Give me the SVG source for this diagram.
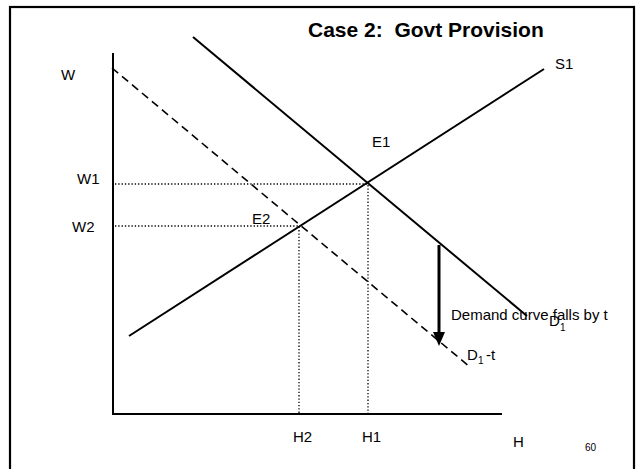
<svg xmlns="http://www.w3.org/2000/svg" width="639" height="469" viewBox="0 0 639 469">
<style>
text{font-family:"Liberation Sans",Arial,sans-serif;font-size:15px;fill:#000}
.t{font-size:21px;font-weight:bold;white-space:pre}
.sub{font-size:10px}
.ln{stroke:#000;stroke-width:2;fill:none}
.dot{stroke:#000;stroke-width:1.3;stroke-dasharray:1.3,2;fill:none}
.dash{stroke:#000;stroke-width:1.6;stroke-dasharray:8,5;fill:none}
</style>
<defs>
<marker id="ah" markerUnits="userSpaceOnUse" markerWidth="12" markerHeight="14" refX="6" refY="13" orient="auto-start-reverse" viewBox="0 0 12 14">
<path d="M0,0 L12,0 L6,13 Z" fill="#000"/>
</marker>
</defs>
<rect x="0" y="0" width="639" height="469" fill="#fff"/>
<rect x="10" y="7" width="624" height="470" fill="none" stroke="#000" stroke-width="2.2"/>
<text class="t" x="308" y="37">Case 2:  Govt Provision</text>
<g id="axes">
<path class="ln" d="M113,53 V414 H502"/>
<text x="61" y="80">W</text>
<text x="513" y="447">H</text>
</g>
<g id="connectors">
<path class="dot" d="M115,184 H368 V414"/>
<path class="dot" d="M115,226 H299 V414"/>
<line class="ln" x1="439" y1="245" x2="439" y2="333" stroke-width="3" style="stroke-width:3"/>
<path d="M433,332 L445,332 L439,346 Z" fill="#000"/>
</g>
<g id="S1">
<line class="ln" x1="129" y1="336" x2="544" y2="69"/>
<text x="555" y="69">S1</text>
</g>
<g id="D1">
<line class="ln" x1="193" y1="37" x2="527" y2="316"/>
<text x="549" y="326">D</text><text class="sub" x="560" y="331">1</text>
</g>
<g id="D1t">
<line class="dash" x1="112" y1="68" x2="470" y2="367"/>
<text x="467" y="360">D</text><text class="sub" x="478" y="364">1</text><text x="486" y="360">-t</text>
</g>
<g id="E1"><text x="372" y="147">E1</text></g>
<g id="E2"><text x="252" y="224">E2</text></g>
<g id="W1"><text x="77" y="184">W1</text></g>
<g id="W2"><text x="72" y="232">W2</text></g>
<g id="H1"><text x="362" y="442">H1</text></g>
<g id="H2"><text x="293" y="442">H2</text></g>
<g id="note"><text x="451" y="320">Demand curve falls by t</text></g>
<text x="585" y="451" style="font-size:10px">60</text>
</svg>
